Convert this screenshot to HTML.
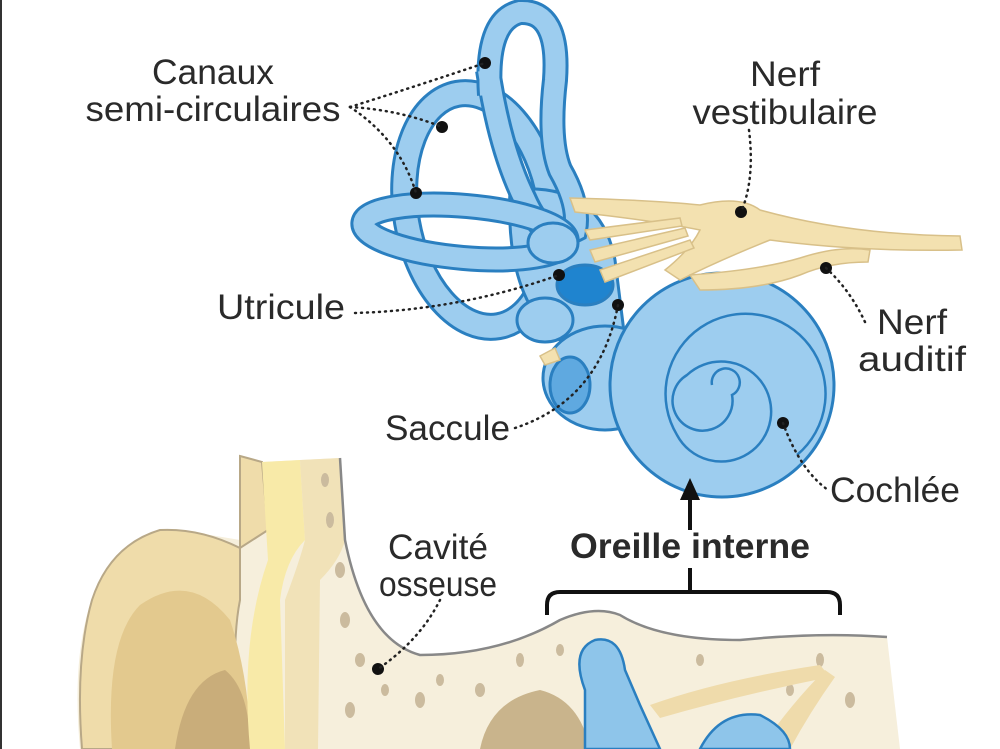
<!DOCTYPE html>
<html><head><meta charset="utf-8"><style>
html,body{margin:0;padding:0;background:#fff;}
svg{display:block}
text{font-family:"Liberation Sans",sans-serif;fill:#2a2a2a;}
</style></head><body>
<svg width="1000" height="749" viewBox="0 0 1000 749" xmlns="http://www.w3.org/2000/svg">
<rect x="0" y="0" width="2" height="749" fill="#333"/>
<!-- bottom anatomy -->
<path d="M240 456 L262 462 L340 458 L345 540 Q365 640 420 655 Q500 655 560 620 Q595 605 620 615 Q660 640 740 640 Q820 632 887 637 L900 749 L80 749 Q70 640 100 580 Q130 535 180 530 L240 540 Z" fill="#f6efdc"/>
<path d="M240 456 L262 462 L268 530 L240 548 Q200 528 160 530 Q110 545 92 600 Q75 660 82 749 L240 749 Q230 650 240 600 Z" fill="#efdcaa" stroke="#b8a887" stroke-width="2"/>
<path d="M112 749 Q105 640 140 605 Q190 570 230 620 Q250 680 250 749 Z" fill="#e3c98e"/>
<path d="M175 749 Q185 680 225 670 Q250 690 250 749 Z" fill="#c9ad7a"/>
<path d="M262 462 L300 460 L305 540 Q285 560 280 600 L285 749 L250 749 Q240 640 268 560 Z" fill="#f8eaa8"/>
<path d="M300 460 L340 458 L345 540 Q340 560 320 580 L318 749 L285 749 L285 600 Q300 560 305 540 Z" fill="#f1e2b8"/>
<path d="M340 458 L345 540 Q365 640 420 655 Q500 655 560 620 Q595 605 620 615 Q660 640 740 640 Q820 632 887 637" fill="none" stroke="#888" stroke-width="2.5"/>
<g fill="#cbbb9e">
<ellipse cx="325" cy="480" rx="4" ry="7"/><ellipse cx="330" cy="520" rx="4" ry="8"/><ellipse cx="340" cy="570" rx="5" ry="8"/><ellipse cx="345" cy="620" rx="5" ry="8"/><ellipse cx="360" cy="660" rx="5" ry="7"/><ellipse cx="385" cy="690" rx="4" ry="6"/><ellipse cx="420" cy="700" rx="5" ry="8"/><ellipse cx="440" cy="680" rx="4" ry="6"/><ellipse cx="480" cy="690" rx="5" ry="7"/><ellipse cx="520" cy="660" rx="4" ry="7"/><ellipse cx="560" cy="650" rx="4" ry="6"/><ellipse cx="820" cy="660" rx="4" ry="7"/><ellipse cx="850" cy="700" rx="5" ry="8"/><ellipse cx="790" cy="690" rx="4" ry="6"/><ellipse cx="350" cy="710" rx="5" ry="8"/><ellipse cx="700" cy="660" rx="4" ry="6"/>
</g>
<path d="M480 749 Q490 700 540 690 Q580 700 590 749 Z" fill="#c9b48c"/>
<path d="M650 705 Q720 680 820 665 L830 677 Q740 695 660 718 Z" fill="#efdbab"/>
<path d="M760 749 Q790 705 825 670 L835 677 Q810 712 790 749 Z" fill="#efdbab"/>
<g fill="#8ec5ea" stroke="#2a7fc0" stroke-width="2.5">
<path d="M585 749 L585 690 Q570 650 595 640 Q620 635 625 670 L640 705 L660 749 Z"/>
<path d="M700 749 Q720 710 760 715 Q790 730 790 749 Z"/>
</g>
<!-- inner ear top -->
<g stroke="#2a7fc0" stroke-width="3" fill="#9dcdef">
<ellipse cx="478" cy="210" rx="72" ry="118" fill="none" stroke="#2a7fc0" stroke-width="28" transform="rotate(-10 478 210)"/>
<ellipse cx="478" cy="210" rx="72" ry="118" fill="none" stroke="#9dcdef" stroke-width="22" transform="rotate(-10 478 210)"/>
<path d="M510 190 Q600 180 615 260 L625 340 Q600 360 560 340 Q505 300 510 190 Z"/>
<path d="M490 95 Q485 20 520 12 Q560 10 555 80 Q548 140 560 170 Q580 205 575 230 Q545 245 525 200 Q500 150 488 70" fill="none" stroke="#2a7fc0" stroke-width="26"/>
<path d="M490 95 Q485 20 520 12 Q560 10 555 80 Q548 140 560 170 Q580 205 575 230 Q545 245 525 200 Q500 150 488 70" fill="none" stroke="#9dcdef" stroke-width="20"/>
<ellipse cx="465" cy="232" rx="102" ry="26" fill="none" stroke="#2a7fc0" stroke-width="26" transform="rotate(5 465 232)"/>
<ellipse cx="465" cy="232" rx="102" ry="26" fill="none" stroke="#9dcdef" stroke-width="20" transform="rotate(5 465 232)"/>
<ellipse cx="553" cy="243" rx="25" ry="20"/>
<ellipse cx="545" cy="320" rx="28" ry="22"/>
<ellipse cx="605" cy="378" rx="62" ry="52"/>
<ellipse cx="570" cy="385" rx="20" ry="28" fill="#5fa9e0"/>
<ellipse cx="585" cy="285" rx="28" ry="20" fill="#1f84cf"/>
<circle cx="722" cy="385" r="112"/>
</g>
<g fill="none" stroke="#2a7fc0" stroke-width="2.5">
<path d="M722 385 m-10 0 a14 14 0 1 1 20 10 a30 30 0 1 1 -45 -20 a50 50 0 1 1 -10 60 a80 80 0 1 1 120 20"/>
</g>
<!-- nerves -->
<g fill="#f3e1b0" stroke="#d8c089" stroke-width="1.5">
<path d="M570 198 Q650 200 700 205 Q740 195 760 210 Q850 235 960 236 L962 250 Q860 252 770 240 Q720 260 680 280 L665 270 Q690 250 700 230 Q650 220 575 212 Z"/>
<path d="M690 275 Q760 270 800 258 Q840 245 870 250 L868 262 Q830 262 800 275 Q760 290 700 290 Z"/>
<path d="M585 230 L680 218 L682 226 L590 240 Z"/>
<path d="M590 250 L685 228 L688 236 L595 262 Z"/>
<path d="M600 270 L690 240 L694 248 L605 282 Z"/>
<path d="M540 356 L555 348 L560 360 L545 365 Z"/>
</g>
<!-- dots and leaders -->
<g fill="#111">
<circle cx="485" cy="63" r="6"/><circle cx="442" cy="127" r="6"/><circle cx="416" cy="193" r="6"/>
<circle cx="741" cy="212" r="6"/><circle cx="826" cy="268" r="6"/><circle cx="559" cy="275" r="6"/>
<circle cx="618" cy="305" r="6"/><circle cx="783" cy="423" r="6"/><circle cx="378" cy="669" r="6"/>
</g>
<g fill="none" stroke="#222" stroke-width="2.5" stroke-dasharray="1 5" stroke-linecap="round">
<path d="M350 107 Q420 85 485 63"/><path d="M350 107 Q400 110 442 127"/><path d="M350 107 Q400 140 416 193"/>
<path d="M749 130 Q755 180 741 212"/><path d="M826 268 Q850 290 865 322"/>
<path d="M355 313 Q460 310 559 275"/><path d="M515 428 Q600 400 618 305"/>
<path d="M783 423 Q800 470 828 490"/><path d="M440 600 Q420 640 378 669"/>
</g>
<!-- arrow & brace -->
<path d="M690 530 L690 495" stroke="#111" stroke-width="4"/>
<polygon points="680,500 700,500 690,478" fill="#111"/>
<path d="M690 568 L690 592" stroke="#111" stroke-width="4"/>
<path d="M547 615 L547 605 Q547 592 560 592 L827 592 Q840 592 840 605 L840 615" fill="none" stroke="#111" stroke-width="4"/>
<!-- labels -->
<g font-size="35">
<text x="213" y="84" text-anchor="middle" textLength="122" lengthAdjust="spacingAndGlyphs">Canaux</text>
<text x="213" y="121" text-anchor="middle" textLength="255" lengthAdjust="spacingAndGlyphs">semi-circulaires</text>
<text x="785" y="86" text-anchor="middle" textLength="70" lengthAdjust="spacingAndGlyphs">Nerf</text>
<text x="785" y="124" text-anchor="middle" textLength="185" lengthAdjust="spacingAndGlyphs">vestibulaire</text>
<text x="345" y="319" text-anchor="end" textLength="128" lengthAdjust="spacingAndGlyphs">Utricule</text>
<text x="912" y="334" text-anchor="middle" textLength="70" lengthAdjust="spacingAndGlyphs">Nerf</text>
<text x="912" y="371" text-anchor="middle" textLength="108" lengthAdjust="spacingAndGlyphs">auditif</text>
<text x="510" y="440" text-anchor="end" textLength="125" lengthAdjust="spacingAndGlyphs">Saccule</text>
<text x="830" y="502" textLength="130" lengthAdjust="spacingAndGlyphs">Cochlée</text>
<text x="438" y="559" text-anchor="middle" textLength="100" lengthAdjust="spacingAndGlyphs">Cavité</text>
<text x="438" y="596" text-anchor="middle" textLength="118" lengthAdjust="spacingAndGlyphs">osseuse</text>
<text x="690" y="558" text-anchor="middle" font-weight="bold" textLength="240" lengthAdjust="spacingAndGlyphs">Oreille interne</text>
</g>
</svg>
</body></html>
